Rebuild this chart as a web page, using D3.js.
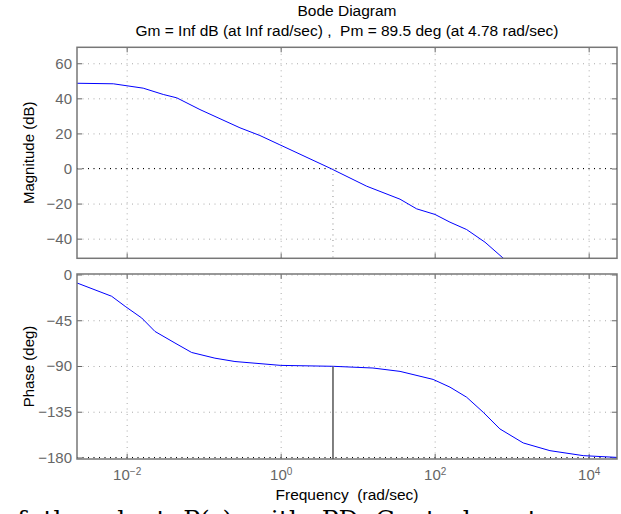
<!DOCTYPE html>
<html>
<head>
<meta charset="utf-8">
<script src="https://cdn.jsdelivr.net/npm/d3@7"></script>
<style>
  body { margin: 0; background: #fff; }
  svg { font-family: "Liberation Sans", Arial, sans-serif; }
  .tick text { fill: #666; font-size: 15px; }
  .domain { display: none; }
  .ticks line { stroke: #666; }
  .grid line { stroke: #aaa; stroke-dasharray: 1, 4.5; }
</style>
</head>
<body>
<div id="chart"></div>
<script>
// magnitude curve
const magFreq = [0.00226, 0.0067, 0.0164, 0.0299, 0.0447, 0.0895, 0.296, 0.538, 0.977, 4.37, 13.1, 35.5, 58.3, 101, 158, 260, 450, 794];
const magDb = [48.6, 48.3, 45.8, 42.2, 40.3, 33.6, 23.2, 18.8, 13.5, 0.2, -10.1, -17.5, -23, -26.2, -30.6, -34.8, -42, -51.5];

// phase curve
const phaseFreq = [0.00224, 0.00638, 0.00955, 0.0157, 0.0233, 0.0424, 0.0698, 0.14, 0.255, 1.0, 4.82, 15.8, 35.5, 95.5, 158, 260, 427, 703, 1413, 3141, 8511, 22900];
const phaseDeg = [-8.2, -21.4, -31.3, -42.8, -56, -67.4, -76.7, -82.3, -85.6, -89.4, -90.3, -92, -95.3, -103.2, -110.8, -120.7, -135.5, -151.9, -165.7, -173.3, -178.2, -179.9];

const decadeTicks = [1e-2, 1e0, 1e2, 1e4];
const decadeExps = ["\u22122", "0", "2", "4"];
const magTicks = [60, 40, 20, 0, -20, -40];
const phaseTicks = [0, -45, -90, -135, -180];

const pmFreq = 4.78;
const pmPhase = -90.5;

const titleLines = ["Bode Diagram", "Gm = Inf dB (at Inf rad/sec) ,  Pm = 89.5 deg (at 4.78 rad/sec)"];

const width = 621, height = 514;
const left = 77, right = 617;

const svg = d3.select("#chart").append("svg")
  .attr("width", width)
  .attr("height", height);

const xScale = d3.scaleLog()
  .domain([Math.pow(10, -2.645), Math.pow(10, 4.368)])
  .range([left, right]);

function fmtMinus(v) {
  return v < 0 ? "\u2212" + Math.abs(v) : String(v);
}

function drawPanel(top, bottom, domain, yTicks, label, xs, ys, refLine, id, showXLabels) {
  const yScale = d3.scaleLinear().domain(domain).range([bottom, top]);
  const w = right - left;
  const g = svg.append("g");

  // grid
  g.append("g").attr("class", "grid")
    .attr("transform", `translate(${left},0)`)
    .call(d3.axisLeft(yScale).tickValues(yTicks).tickSize(-w).tickFormat(""));
  g.append("g").attr("class", "grid")
    .attr("transform", `translate(0,${bottom})`)
    .call(d3.axisBottom(xScale).tickValues(decadeTicks).tickSize(-(bottom - top)).tickFormat(""));

  // 0 dB / -180 deg reference line
  g.append("line")
    .attr("x1", left).attr("x2", right)
    .attr("y1", yScale(refLine)).attr("y2", yScale(refLine))
    .attr("stroke", "#000")
    .attr("stroke-dasharray", "1,4.5");

  // ticks pointing inward
  g.append("g").attr("class", "ticks")
    .attr("transform", `translate(${left},0)`)
    .call(d3.axisLeft(yScale).tickValues(yTicks).tickSize(-5).tickPadding(5).tickFormat(fmtMinus));
  g.append("g").attr("class", "ticks")
    .attr("transform", `translate(${right},0)`)
    .call(d3.axisRight(yScale).tickValues(yTicks).tickSize(-5).tickFormat(""));
  g.append("g").attr("class", "ticks")
    .attr("transform", `translate(0,${top})`)
    .call(d3.axisTop(xScale).tickValues(decadeTicks).tickSize(-5).tickFormat(""));
  const xb = g.append("g").attr("class", "ticks")
    .attr("transform", `translate(0,${bottom})`)
    .call(d3.axisBottom(xScale).tickValues(decadeTicks).tickSize(-5).tickPadding(10).tickFormat(""));

  if (showXLabels) {
    xb.selectAll(".tick text").each(function(d, i) {
      const t = d3.select(this).attr("dy", "0.71em").attr("text-anchor", "middle");
      t.append("tspan").text("10");
      t.append("tspan").attr("dy", "-0.5em").attr("font-size", "10px").text(decadeExps[i]);
    });
  }

  g.append("clipPath").attr("id", id)
    .append("rect")
    .attr("x", left).attr("y", top)
    .attr("width", w).attr("height", bottom - top);

  const line = d3.line()
    .x((d, i) => xScale(xs[i]))
    .y(d => yScale(d));

  g.append("path")
    .datum(ys)
    .attr("clip-path", `url(#${id})`)
    .attr("fill", "none")
    .attr("stroke", "#0000ff")
    .attr("stroke-width", 1)
    .attr("d", line);

  // box
  g.append("rect")
    .attr("x", left).attr("y", top)
    .attr("width", w).attr("height", bottom - top)
    .attr("fill", "none")
    .attr("stroke", "#777")
    .attr("stroke-width", 1.5);

  svg.append("text")
    .attr("transform", `translate(34,${(top + bottom) / 2}) rotate(-90)`)
    .attr("text-anchor", "middle")
    .attr("font-size", 15)
    .text(label);

  return yScale;
}

const magY = drawPanel(47.3, 258.3, [-51.2, 69.1], magTicks, "Magnitude (dB)", magFreq, magDb, 0, "clipMag", false);
const phaseY = drawPanel(274, 459, [-181.5, 0.5], phaseTicks, "Phase (deg)", phaseFreq, phaseDeg, -180, "clipPhase", true);

// phase margin markers
svg.append("line")
  .attr("x1", xScale(pmFreq)).attr("x2", xScale(pmFreq))
  .attr("y1", magY(0)).attr("y2", 258.3)
  .attr("stroke", "#888")
  .attr("stroke-dasharray", "1,4.5");
svg.append("line")
  .attr("x1", xScale(pmFreq)).attr("x2", xScale(pmFreq))
  .attr("y1", phaseY(pmPhase)).attr("y2", 459)
  .attr("stroke", "#555")
  .attr("stroke-width", 1.5);

svg.selectAll(".title")
  .data(titleLines)
  .enter()
  .append("text")
  .attr("class", "title")
  .attr("x", 347)
  .attr("y", (d, i) => 16 + i * 20)
  .attr("text-anchor", "middle")
  .attr("font-size", 15.5)
  .style("white-space", "pre")
  .text(d => d);

svg.append("text")
  .attr("x", 347)
  .attr("y", 500)
  .attr("text-anchor", "middle")
  .attr("font-size", 15.5)
  .style("white-space", "pre")
  .text("Frequency  (rad/sec)");

// running text of the page below, cut off by the frame
svg.append("text")
  .attr("x", 2)
  .attr("y", 528)
  .attr("font-family", "'DejaVu Serif', 'Liberation Serif', serif")
  .attr("font-size", 25)
  .attr("word-spacing", 9)
  .text("of the plant P(s) with PD Control system");
</script>
</body>
</html>
